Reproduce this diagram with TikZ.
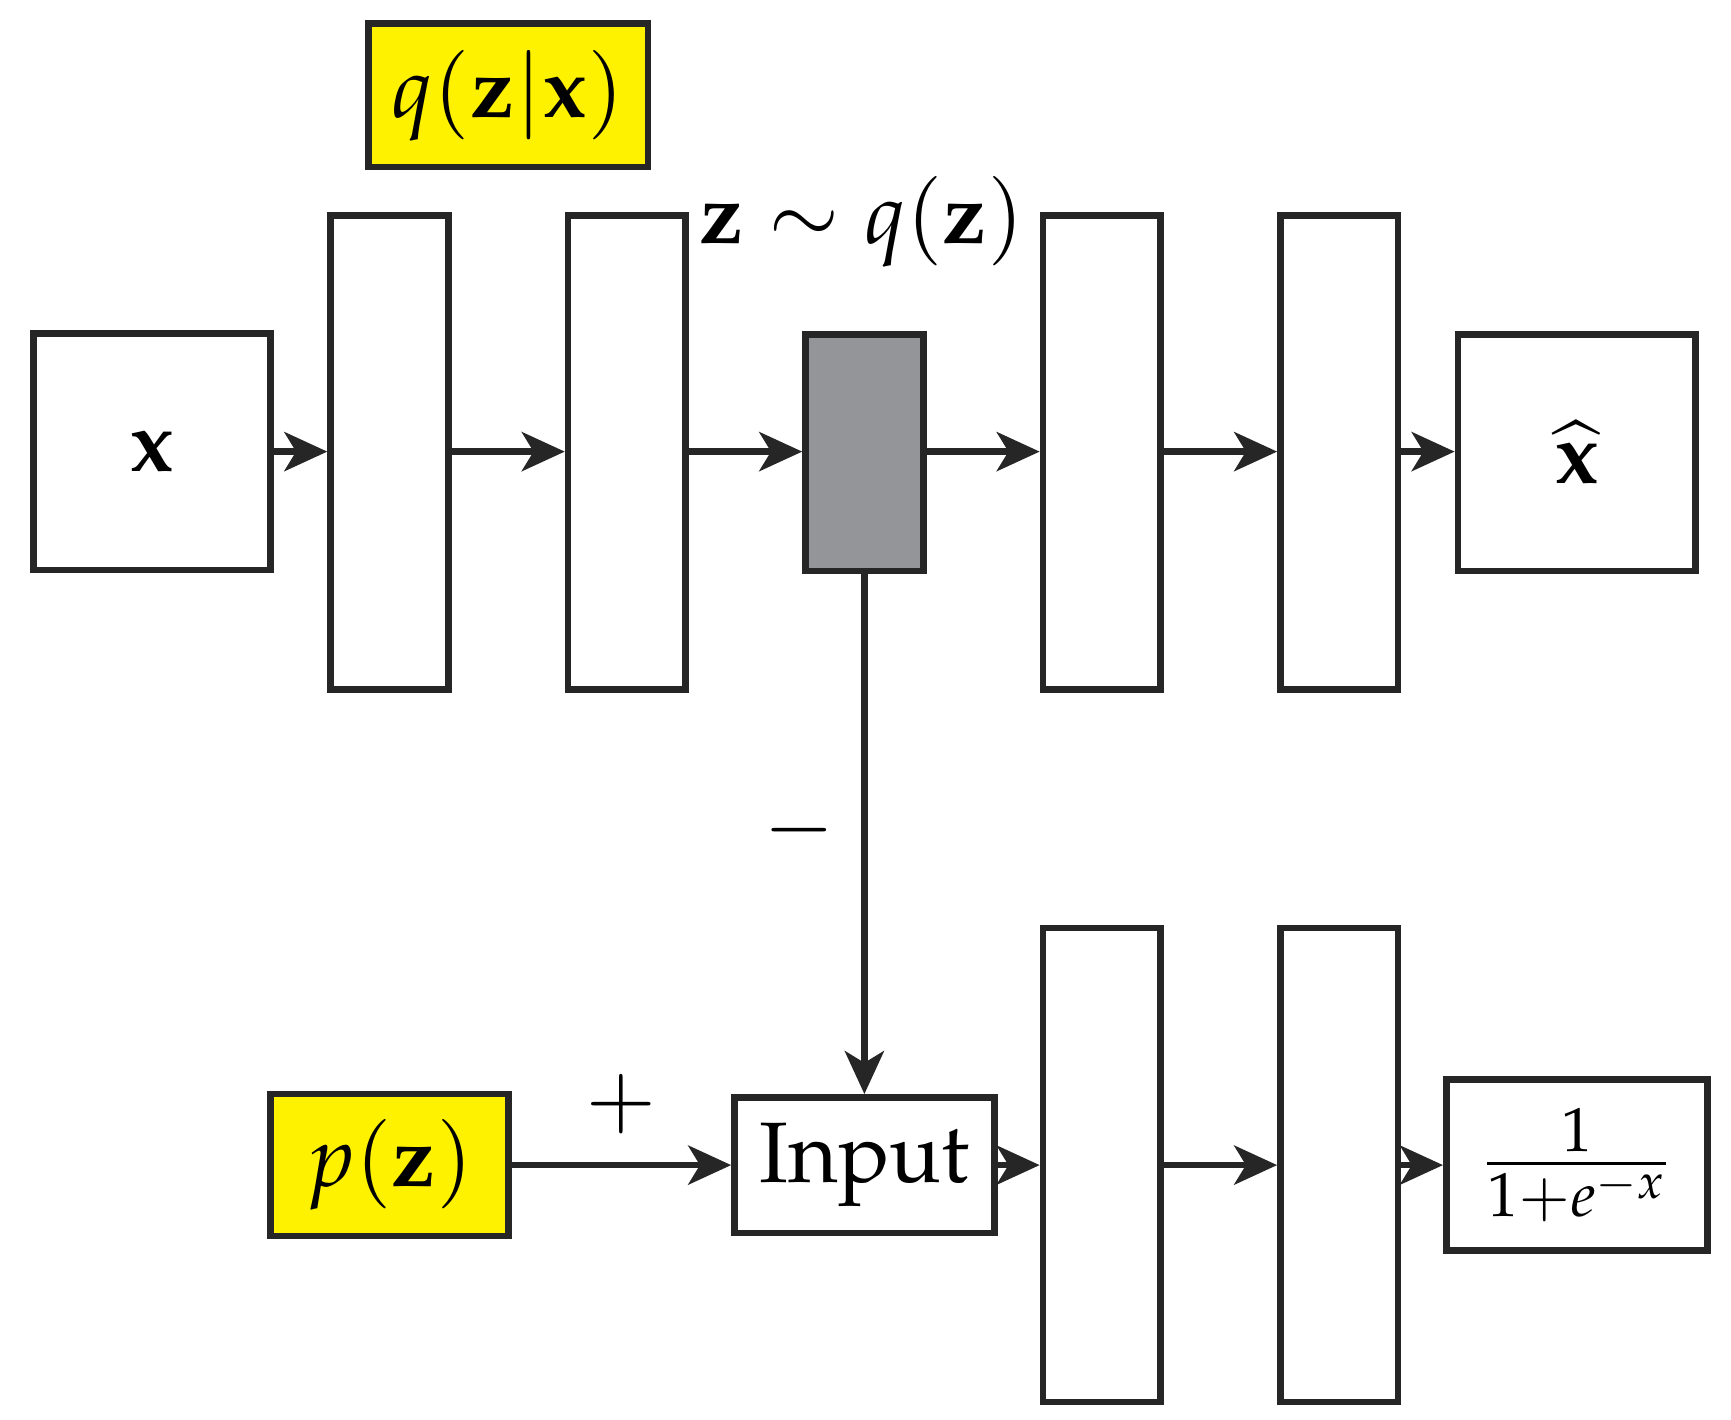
\documentclass[tikz,border=0pt]{standalone}
\usepackage[T1]{fontenc}
\usepackage{mathpazo}
\usetikzlibrary{arrows.meta}
\begin{document}
\begin{tikzpicture}[x=0.01cm,y=-0.01cm,
 bx/.style={draw=black!85,line width=1.7pt,inner sep=0pt},
 ar/.style={draw=black!85,line width=1.7pt,-{Stealth[length=11pt,width=10pt,inset=3pt]}},
 big/.style={font=\fontencoding{T1}\fontfamily{pplx}\fontsize{22}{26}\selectfont}]
\useasboundingbox (0,0) rectangle (1560,1279);
\tikzset{lay/.style={bx,minimum width=1.06cm,minimum height=4.27cm}}
\node[bx,minimum width=2.13cm,minimum height=2.13cm,big] (x) at (137,407) {$\mathbf{x}$};
\node[lay] (e1) at (351,408) {};
\node[lay] (e2) at (565,408) {};
\node[bx,fill={rgb,255:red,147;green,149;blue,152},minimum width=1.06cm,minimum height=2.13cm] (z) at (779,408) {};
\node[lay] (d1) at (993,408) {};
\node[lay] (d2) at (1207,408) {};
\node[bx,minimum width=2.14cm,minimum height=2.13cm,big] (xh) at (1421,408) {$\widehat{\mathbf{x}}$};
\node[bx,fill=yellow,minimum width=2.52cm,minimum height=1.29cm,big] (q) at (458,86) {$q(\mathbf{z}|\mathbf{x})$};
\node[big] (zl) at (777,200) {$\mathbf{z}\sim q(\mathbf{z})$};
\node[bx,fill=yellow,minimum width=2.14cm,minimum height=1.28cm,big] (p) at (351,1050) {$p(\mathbf{z})$};
\node[bx,minimum width=2.34cm,minimum height=1.22cm,big] (in) at (779,1050) {Input};
\node[lay] (b1) at (993,1050) {};
\node[lay] (b2) at (1207,1050) {};
\node[bx,minimum width=2.35cm,minimum height=1.54cm,font=\fontsize{21}{25}\selectfont] (s) at (1421,1050) {$\frac{1}{1+e^{-x}}$};
\node[big] (mi) at (720,748) {$-$};
\node[big] (pl) at (560,995) {$+$};
\draw[ar] (x.east|-0,407) -- (e1.west|-0,407);
\draw[ar] (e1.east|-0,407) -- (e2.west|-0,407);
\draw[ar] (e2.east|-0,407) -- (z.west|-0,407);
\draw[ar] (z.east|-0,407) -- (d1.west|-0,407);
\draw[ar] (d1.east|-0,407) -- (d2.west|-0,407);
\draw[ar] (d2.east|-0,407) -- (xh.west|-0,407);
\draw[ar] (z.south) -- (in.north);
\draw[ar] (p.east) -- (in.west);
\draw[ar] (in.east) -- (b1.west);
\draw[ar] (b1.east) -- (b2.west);
\draw[ar] (b2.east) -- (s.west);
\end{tikzpicture}
\end{document}
